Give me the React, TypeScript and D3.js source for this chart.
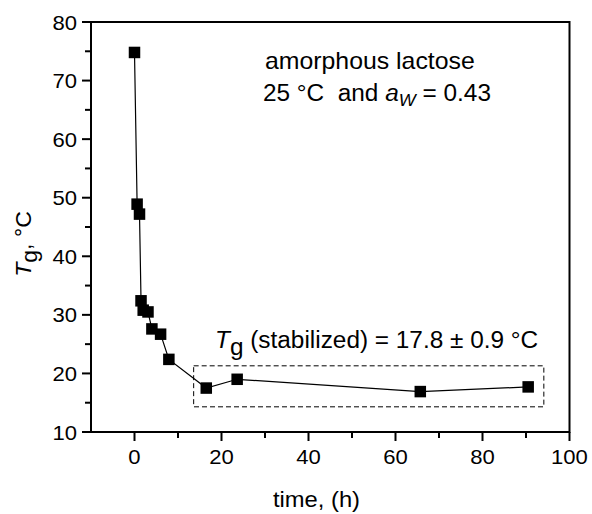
import React from 'react';
import * as d3 from 'd3';

const timeHours = [0, 0.6, 1.15, 1.5, 2.0, 3.1, 4.0, 6.0, 7.9, 16.5, 23.6, 65.7, 90.5];
const tgValues = [74.8, 48.9, 47.2, 32.4, 30.8, 30.5, 27.6, 26.7, 22.4, 17.5, 19.0, 16.9, 17.7];
const xMajorTicks = [0, 20, 40, 60, 80, 100];
const xMinorTicks = [10, 30, 50, 70, 90];
const yMajorTicks = [10, 20, 30, 40, 50, 60, 70, 80];
const yMinorTicks = [15, 25, 35, 45, 55, 65, 75];
const stableBoxX = [13.6, 94.1];
const stableBoxY = [14.3, 21.3];

const W = 592, H = 514;
const L = 91, R = 569.5, T = 22, B = 432;
const FONT = "'Liberation Sans', Arial, Helvetica, sans-serif";

export default function App() {
  const x = d3.scaleLinear().domain([-10, 100]).range([L, R]);
  const y = d3.scaleLinear().domain([10, 80]).range([B, T]);
  const pts = timeHours.map((t, i) => [t, tgValues[i]] as [number, number]);
  const line = d3.line<[number, number]>().x(d => x(d[0])).y(d => y(d[1]));
  const ms = 11.5;

  const txt = (tx: number, ty: number, anchor: string, children: React.ReactNode, size = 21, sx = 1.05, extra: any = {}) => (
    <text transform={`translate(${tx},${ty}) scale(${sx},1)`} textAnchor={anchor as any} fontSize={size} fontFamily={FONT} fill="#000" {...extra}>{children}</text>
  );

  return (
    <svg width={W} height={H} style={{ position: 'absolute', left: 0, top: 0, background: '#fff' }}>
      <rect x={0} y={0} width={W} height={H} fill="#fff" />
      <rect x={L} y={T} width={R - L} height={B - T} fill="none" stroke="#000" strokeWidth={2} />
      {yMajorTicks.map(v => (
        <g key={'ym' + v}>
          <line x1={L - 9} x2={L} y1={y(v)} y2={y(v)} stroke="#000" strokeWidth={2} />
          {txt(L - 14, y(v) + 7.5, 'end', v, 21, 1.05)}
        </g>
      ))}
      {yMinorTicks.map(v => (
        <line key={'yn' + v} x1={L - 6} x2={L} y1={y(v)} y2={y(v)} stroke="#000" strokeWidth={2} />
      ))}
      {xMajorTicks.map(v => (
        <g key={'xm' + v}>
          <line x1={x(v)} x2={x(v)} y1={B} y2={B + 9} stroke="#000" strokeWidth={2} />
          {txt(x(v), 463.5, 'middle', v, 21, 1.05)}
        </g>
      ))}
      {xMinorTicks.map(v => (
        <line key={'xn' + v} x1={x(v)} x2={x(v)} y1={B} y2={B + 6} stroke="#000" strokeWidth={2} />
      ))}
      <rect x={x(stableBoxX[0])} y={y(stableBoxY[1])} width={x(stableBoxX[1]) - x(stableBoxX[0])} height={y(stableBoxY[0]) - y(stableBoxY[1])}
        fill="none" stroke="#000" strokeWidth={1} strokeDasharray="5,3" />
      <path d={line(pts) || ''} fill="none" stroke="#000" strokeWidth={1.2} />
      {pts.map((p, i) => (
        <rect key={i} x={x(p[0]) - ms / 2} y={y(p[1]) - ms / 2} width={ms} height={ms} fill="#000" />
      ))}
      {txt(265, 68.5, 'start', 'amorphous lactose', 23, 1.08)}
      {txt(263, 101, 'start', <>25 °C  and <tspan fontStyle="italic">a</tspan><tspan fontStyle="italic" fontSize={17} dy={5}>W</tspan><tspan dy={-5}> = 0.43</tspan></>, 23, 1.06, { xmlSpace: 'preserve' })}
      {txt(215, 348, 'start', <><tspan fontStyle="italic">T</tspan><tspan fontSize={23} dy={7}>g</tspan><tspan dy={-7}> (stabilized) = 17.8 ± 0.9 °C</tspan></>, 23, 1.06)}
      {txt(316.5, 507, 'middle', 'time, (h)', 22, 1.08)}
      <text transform={`translate(31,244) rotate(-90) scale(1.05,1)`} textAnchor="middle" fontSize={22} fontFamily={FONT} fill="#000">
        <tspan fontStyle="italic">T</tspan><tspan dy={6}>g</tspan><tspan dy={-6}>, °C</tspan>
      </text>
    </svg>
  );
}
